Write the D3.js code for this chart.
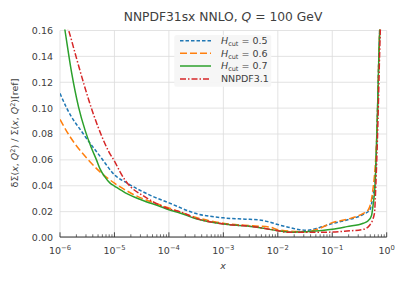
<!DOCTYPE html>
<html><head><meta charset="utf-8">
<script src="https://cdn.jsdelivr.net/npm/d3@7"></script>
<style>
body{margin:0;background:#fff}
text{font-family:"DejaVu Sans",sans-serif;fill:#404040}
</style>
</head><body>
<svg id="c" width="407" height="284"></svg>
<script>
// ---- data (x given as log10 x) ----
const xTickExps = [-6, -5, -4, -3, -2, -1, 0];
const yTicks = [0, 0.02, 0.04, 0.06, 0.08, 0.10, 0.12, 0.14, 0.16];
const seriesLabels = ["0.5", "0.6", "0.7", "NNPDF3.1"];

const lx05 = [-6.0, -5.877, -5.57, -5.25, -5.0, -4.745, -4.35, -4.0, -3.5, -3.0, -2.6, -2.35, -2.14, -2.0, -1.81, -1.6, -1.47, -1.23, -1.0, -0.73, -0.43, -0.31, -0.25, -0.216, -0.173, -0.143, -0.12];
const y05  = [0.1114, 0.100, 0.080, 0.062, 0.0485, 0.0415, 0.0328, 0.0268, 0.0185, 0.0152, 0.0142, 0.0136, 0.0118, 0.0100, 0.0080, 0.0060, 0.0055, 0.0078, 0.0108, 0.0135, 0.0179, 0.0213, 0.033, 0.042, 0.091, 0.142, 0.17];

const lx06 = [-6.0, -5.847, -5.48, -5.27, -5.0, -4.71, -4.0, -3.5, -3.0, -2.45, -2.14, -2.0, -1.47, -1.23, -1.0, -0.73, -0.43, -0.34, -0.25, -0.173, -0.143, -0.12];
const y06  = [0.0913, 0.080, 0.060, 0.0509, 0.0420, 0.0346, 0.0228, 0.0155, 0.0110, 0.0090, 0.0080, 0.0060, 0.0045, 0.0071, 0.0115, 0.014, 0.0187, 0.0213, 0.038, 0.091, 0.142, 0.17];

const lx07 = [-6.0, -5.908, -5.785, -5.66, -5.54, -5.43, -5.33, -5.265, -5.18, -5.08, -5.0, -4.8, -4.5, -4.16, -4.0, -3.8, -3.5, -3.0, -2.45, -2.0, -1.7, -1.47, -1.0, -0.73, -0.43, -0.34, -0.28, -0.25, -0.216, -0.173, -0.143, -0.12];
const y07  = [0.185, 0.160, 0.127, 0.101, 0.083, 0.070, 0.060, 0.053, 0.047, 0.042, 0.0398, 0.0345, 0.0290, 0.0240, 0.0215, 0.0190, 0.0145, 0.0104, 0.0084, 0.0053, 0.0040, 0.0045, 0.0063, 0.0084, 0.011, 0.013, 0.0168, 0.025, 0.039, 0.091, 0.142, 0.17];

const lxRef = [-5.9, -5.84, -5.7, -5.55, -5.4, -5.25, -5.1, -5.0, -4.9, -4.8, -4.7, -4.5, -4.35, -4.0, -3.8, -3.5, -3.0, -2.45, -2.0, -1.81, -1.47, -1.0, -0.73, -0.43, -0.31, -0.225, -0.2, -0.16, -0.13, -0.11];
const yRef  = [0.168, 0.160, 0.139, 0.117, 0.097, 0.080, 0.066, 0.059, 0.051, 0.044, 0.039, 0.033, 0.029, 0.0222, 0.0200, 0.0148, 0.0105, 0.0084, 0.0053, 0.0040, 0.0040, 0.0042, 0.0050, 0.0063, 0.0097, 0.0187, 0.040, 0.091, 0.142, 0.17];

const colors = ["#1f77b4", "#ff7f0e", "#2ca02c", "#d62728"];
const dashes = ["3.5,2", "7,3", null, "6,2,1.5,2"];

// ---- layout ----
const svg = d3.select("#c");
const L = 60, R = 386.7, T = 30.5, B = 237.5;
const x = d3.scaleLog().domain([1e-6, 1]).range([L, R]);
const y = d3.scaleLinear().domain([0, 0.16]).range([B, T]);

// grid
const g = svg.append("g");
g.selectAll(".hg").data(yTicks).enter().append("line")
  .attr("x1", L).attr("x2", R).attr("y1", d => y(d)).attr("y2", d => y(d))
  .attr("stroke", "#dcdcdc").attr("stroke-width", 0.8);
g.selectAll(".vg").data(xTickExps).enter().append("line")
  .attr("y1", T).attr("y2", B).attr("x1", d => x(Math.pow(10, d))).attr("x2", d => x(Math.pow(10, d)))
  .attr("stroke", "#dcdcdc").attr("stroke-width", 0.8);

// y labels
svg.selectAll(".yl").data(yTicks).enter().append("text")
  .attr("x", L - 7).attr("y", d => y(d) + 3.4)
  .attr("text-anchor", "end").attr("font-size", 9.5)
  .text(d => d.toFixed(2));

// bottom axis
const minor = [];
for (let e = -6; e < 0; e++) for (let k = 2; k <= 9; k++) minor.push(k * Math.pow(10, e));
const ax = svg.append("g");
ax.append("line").attr("x1", L).attr("x2", R).attr("y1", B - 0.5).attr("y2", B - 0.5)
  .attr("stroke", "#333").attr("stroke-width", 1);
ax.selectAll(".mj").data(xTickExps).enter().append("line")
  .attr("x1", d => x(Math.pow(10, d))).attr("x2", d => x(Math.pow(10, d)))
  .attr("y1", B - 0.5).attr("y2", B - 5.2).attr("stroke", "#333").attr("stroke-width", 0.9);
ax.selectAll(".mn").data(minor).enter().append("line")
  .attr("x1", d => x(d)).attr("x2", d => x(d))
  .attr("y1", B - 0.5).attr("y2", B - 3.2).attr("stroke", "#333").attr("stroke-width", 0.7);
const xl = ax.selectAll(".xl").data(xTickExps).enter().append("text")
  .attr("x", d => x(Math.pow(10, d))).attr("y", 253.5)
  .attr("text-anchor", "middle").attr("font-size", 9.5);
xl.append("tspan").text("10");
xl.append("tspan").attr("dy", -3.8).attr("font-size", 6.8).text(d => d === 0 ? "0" : "\u2212" + Math.abs(d));

// curves
svg.append("clipPath").attr("id", "clip").append("rect")
  .attr("x", L).attr("y", T - 1).attr("width", R - L).attr("height", B - T + 1);
const line = d3.line().x(d => x(Math.pow(10, d[0]))).y(d => y(d[1])).curve(d3.curveMonotoneX);
const series = [[lx05, y05], [lx06, y06], [lx07, y07], [lxRef, yRef]];
const cg = svg.append("g").attr("clip-path", "url(#clip)");
series.forEach((s, i) => {
  const pts = s[0].map((v, j) => [v, s[1][j]]);
  const p = cg.append("path").datum(pts).attr("d", line)
    .attr("fill", "none").attr("stroke", colors[i]).attr("stroke-width", 1.5);
  if (dashes[i]) p.attr("stroke-dasharray", dashes[i]);
});

// legend
const lg = svg.append("g");
lg.append("rect").attr("x", 174.3).attr("y", 35).attr("width", 97).attr("height", 51.7)
  .attr("rx", 2).attr("fill", "#f5f5f5").attr("fill-opacity", 0.95);
const rowY = [40.7, 53.3, 66, 79];
seriesLabels.forEach((lab, i) => {
  const l = lg.append("line").attr("x1", 180).attr("x2", 211).attr("y1", rowY[i]).attr("y2", rowY[i])
    .attr("stroke", colors[i]).attr("stroke-width", 1.5);
  if (dashes[i]) l.attr("stroke-dasharray", dashes[i]);
  const t = lg.append("text").attr("x", 221).attr("y", rowY[i] + 3.4).attr("font-size", 9.5);
  if (i < 3) {
    t.append("tspan").attr("font-style", "italic").text("H");
    t.append("tspan").attr("font-size", 6.5).attr("dy", 2).text("cut");
    t.append("tspan").attr("dy", -2).text(" = " + lab);
  } else {
    t.text(lab);
  }
});

// title
const tt = svg.append("text").attr("x", 223).attr("y", 20.5).attr("text-anchor", "middle").attr("font-size", 12.3);
tt.append("tspan").text("NNPDF31sx NNLO, ");
tt.append("tspan").attr("font-style", "italic").text("Q");
tt.append("tspan").text(" = 100 GeV");

// x label
svg.append("text").attr("x", 223).attr("y", 269).attr("text-anchor", "middle")
  .attr("font-size", 9.5).attr("font-style", "italic").text("x");

// y label
const yl = svg.append("text").attr("transform", "translate(18,133) rotate(-90)")
  .attr("text-anchor", "middle").attr("font-size", 9.5);
yl.append("tspan").text("\u03b4\u03a3(");
yl.append("tspan").attr("font-style", "italic").text("x");
yl.append("tspan").text(", ");
yl.append("tspan").attr("font-style", "italic").text("Q");
yl.append("tspan").attr("font-size", 6.5).attr("dy", -3.5).text("2");
yl.append("tspan").attr("dy", 3.5).text(") / \u03a3(");
yl.append("tspan").attr("font-style", "italic").text("x");
yl.append("tspan").text(", ");
yl.append("tspan").attr("font-style", "italic").text("Q");
yl.append("tspan").attr("font-size", 6.5).attr("dy", -3.5).text("2");
yl.append("tspan").attr("dy", 3.5).text(")[ref]");
</script>
</body></html>
